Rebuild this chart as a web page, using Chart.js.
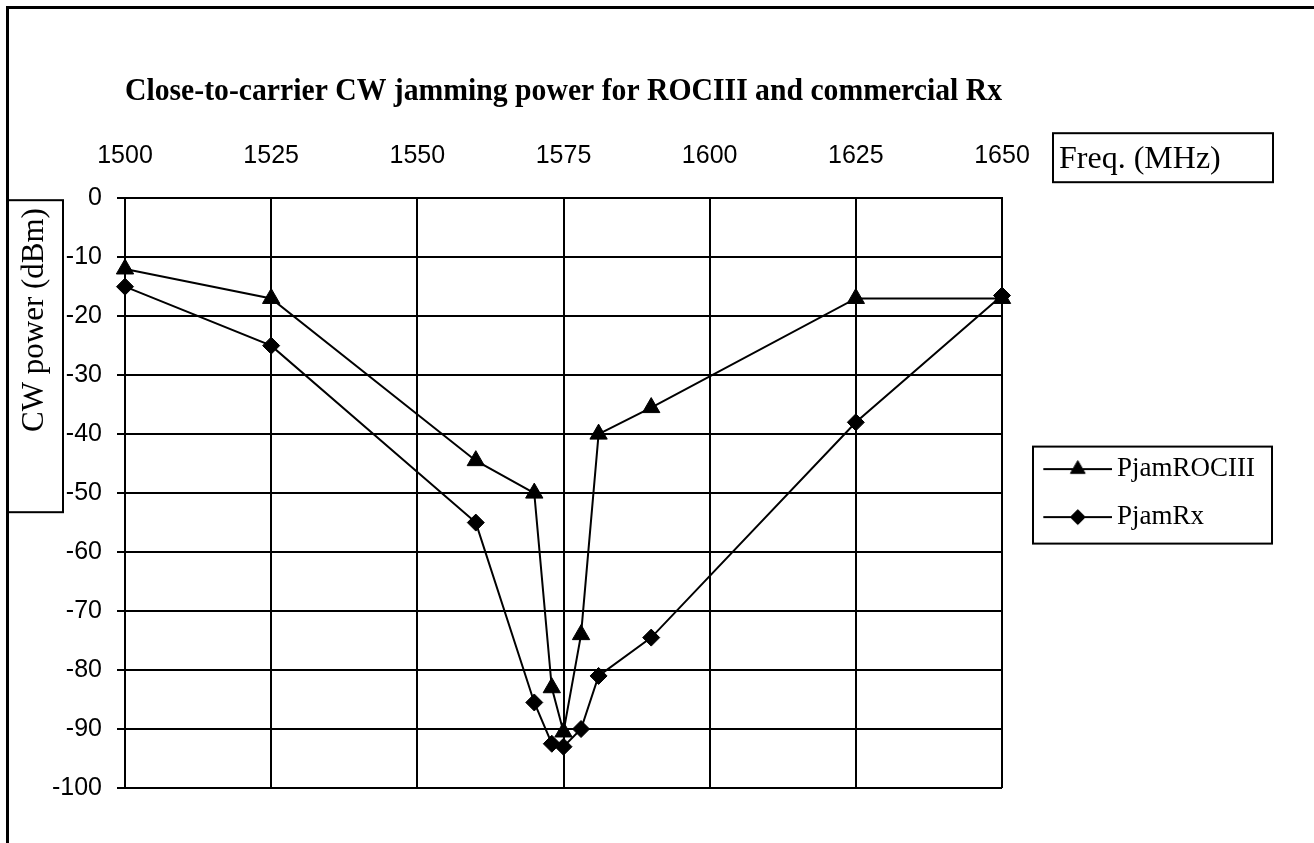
<!DOCTYPE html>
<html>
<head>
<meta charset="utf-8">
<script src="https://cdn.jsdelivr.net/npm/chart.js@4.4.1/dist/chart.umd.min.js"></script>
<style>
html, body { margin: 0; padding: 0; background: #fff; overflow: hidden; }
#wrap { position: absolute; left: 0; top: 0; width: 1314px; height: 843px; }
</style>
</head>
<body>
<div id="wrap"><canvas id="c" width="1314" height="843"></canvas></div>
<script>
// ---- data ----
const freqs      = [1500, 1525, 1560, 1570, 1573, 1575, 1578, 1581, 1590, 1625, 1650];
const pjamROCIII = [-12, -17, -44.5, -50, -83, -90.5, -74, -40, -35.5, -17, -17];
const pjamRx     = [-15, -25, -55, -85.5, -92.5, -93, -90, -81, -74.5, -38, -16.5];
const seriesNames = ['PjamROCIII', 'PjamRx'];
const xTickValues = [1500, 1525, 1550, 1575, 1600, 1625, 1650];
const yTickValues = [0, -10, -20, -30, -40, -50, -60, -70, -80, -90, -100];
const titleText = 'Close-to-carrier CW jamming power for ROCIII and commercial Rx';
const xTitleText = 'Freq. (MHz)';
const yTitleText = 'CW power (dBm)';

const SERIF = '"Liberation Serif", "Times New Roman", Times, serif';
const SANS = '"Liberation Sans", Arial, Helvetica, sans-serif';

function toPoints(xs, ys) { return xs.map((x, i) => ({ x: x, y: ys[i] })); }

// legend icons: short line with the series marker (Excel style)
function makeIcon(style, radius) {
  const w = 98, h = 24;
  const c = document.createElement('canvas');
  c.width = w; c.height = h;
  const g = c.getContext('2d');
  g.strokeStyle = '#000'; g.lineWidth = 2;
  g.beginPath(); g.moveTo(29, h / 2); g.lineTo(98, h / 2); g.stroke();
  g.fillStyle = '#000'; g.lineWidth = 1;
  Chart.helpers.drawPoint(g, { pointStyle: style, radius: radius, borderWidth: 1, rotation: 0 }, 63.5, h / 2);
  return c;
}
const icons = [makeIcon('triangle', 8.5), makeIcon('rectRot', 7.5)];

const decor = {
  id: 'decor',
  beforeDraw(chart) {
    const ctx = chart.ctx;
    ctx.save();
    ctx.fillStyle = '#fff';
    ctx.fillRect(0, 0, chart.width, chart.height);
    ctx.fillStyle = '#000';
    ctx.fillRect(6, 6, 3, chart.height);
    ctx.fillRect(6, 6, chart.width, 3);
    ctx.restore();
  },
  afterDraw(chart) {
    const ctx = chart.ctx, a = chart.chartArea;
    ctx.save();
    ctx.strokeStyle = '#000';
    ctx.lineWidth = 2;
    // x axis title box
    ctx.strokeRect(a.right + 51, a.top - 65, 220, 49);
    ctx.fillStyle = '#000';
    ctx.font = '32px ' + SERIF;
    ctx.textAlign = 'left';
    ctx.textBaseline = 'alphabetic';
    ctx.fillText(xTitleText, a.right + 57, a.top - 30);
    // y axis title box
    ctx.strokeRect(8, a.top + 2, 55, 312);
    ctx.save();
    ctx.translate(35, 320);
    ctx.rotate(-Math.PI / 2);
    ctx.textAlign = 'center';
    ctx.textBaseline = 'middle';
    ctx.font = '31px ' + SERIF;
    ctx.fillText(yTitleText, 0, 0);
    ctx.restore();
    // legend frame
    const hb = chart.legend.legendHitBoxes;
    if (hb && hb.length) {
      const l = hb[0].left + 10, t = hb[0].top - 9;
      const last = hb[hb.length - 1];
      ctx.strokeRect(l, t, 239, last.top + last.height + 13 - t);
    }
    ctx.restore();
  }
};

new Chart(document.getElementById('c'), {
  type: 'line',
  data: {
    datasets: [
      {
        label: seriesNames[0],
        data: toPoints(freqs, pjamROCIII),
        borderColor: '#000', backgroundColor: '#000', borderWidth: 2,
        pointStyle: 'triangle', pointRadius: 10, pointBorderWidth: 1,
        pointBackgroundColor: '#000', pointBorderColor: '#000',
        tension: 0, clip: false
      },
      {
        label: seriesNames[1],
        data: toPoints(freqs, pjamRx),
        borderColor: '#000', backgroundColor: '#000', borderWidth: 2,
        pointStyle: 'rectRot', pointRadius: 8.5, pointBorderWidth: 1,
        pointBackgroundColor: '#000', pointBorderColor: '#000',
        tension: 0, clip: false
      }
    ]
  },
  options: {
    responsive: false,
    animation: false,
    events: [],
    layout: { padding: { left: 0, top: 0, right: 49, bottom: 55 } },
    scales: {
      x: {
        type: 'linear', position: 'top', min: 1500, max: 1650,
        afterBuildTicks: s => { s.ticks = xTickValues.map(v => ({ value: v })); },
        ticks: { font: { family: SANS, size: 25 }, color: '#000', padding: 27, maxRotation: 0, autoSkip: false,
                 callback: v => String(v) },
        grid: { color: '#000', lineWidth: 2, drawTicks: false },
        border: { color: '#000', width: 2 }
      },
      y: {
        type: 'linear', position: 'left', min: -100, max: 0,
        afterBuildTicks: s => { s.ticks = yTickValues.map(v => ({ value: v })); },
        afterFit: s => { s.width = 125; },
        ticks: { font: { family: SANS, size: 25 }, color: '#000', padding: 15, autoSkip: false,
                 callback: v => String(v) },
        grid: { color: '#000', lineWidth: 2, tickLength: 8, drawTicks: true },
        border: { color: '#000', width: 2 }
      }
    },
    plugins: {
      title: {
        display: true, text: titleText, color: '#000',
        font: { family: SERIF, size: 31, weight: 'bold' },
        fullSize: false, align: 'center',
        padding: { top: 73, bottom: 4 }
      },
      legend: {
        display: true, position: 'right', fullSize: false, align: 'center',
        labels: {
          color: '#000', font: { family: SERIF, size: 27 },
          usePointStyle: true, pointStyleWidth: 80.5, padding: 21,
          generateLabels: chart => {
            const items = Chart.defaults.plugins.legend.labels.generateLabels(chart);
            items.forEach((it, i) => { it.pointStyle = icons[i]; it.fillStyle = '#000'; it.strokeStyle = '#000'; });
            return items;
          }
        }
      },
      tooltip: { enabled: false }
    }
  },
  plugins: [decor]
});
</script>
</body>
</html>
